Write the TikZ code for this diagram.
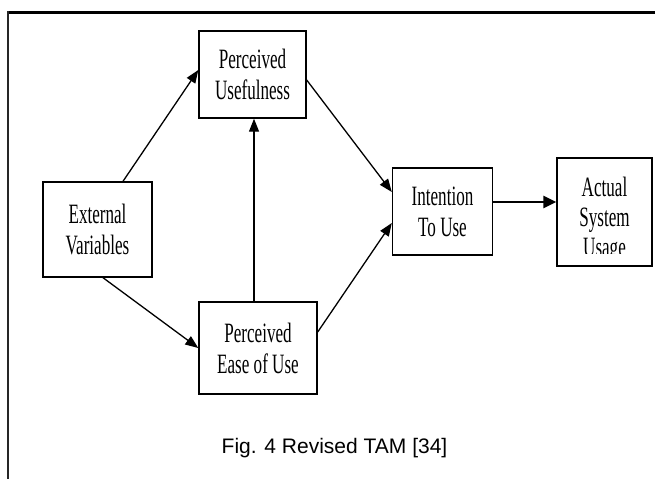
\documentclass[tikz,border=0pt]{standalone}
\usepackage{fontspec}
\setmainfont{Liberation Serif}
\newfontfamily\boxfont[FakeStretch=0.61]{Liberation Serif}
\newfontfamily\capfont{Liberation Sans}
\usetikzlibrary{arrows.meta}

\tikzset{
  model/.style={draw=black, line width=1.4pt, fill=white, inner sep=0pt,
    align=center, font=\boxfont\fontsize{28}{31}\selectfont},
  link/.style={line width=1.3pt, -{Triangle[length=13pt,width=10pt]}},
  biglink/.style={line width=2.6pt, -{Triangle[length=13pt,width=12pt]}},
  frame/.style={line width=2.4pt, black}
}

\begin{document}
\begin{tikzpicture}[x=1pt, y=-1pt]
  \useasboundingbox (0,0) rectangle (655,479);

  % outer frame (top and left rules only)
  \draw[frame] (655,12.5) -- (8,12.5);
  \draw[line width=2pt, black!85] (8,11.3) -- (8,479);

  % constructs
  \node[model, minimum width=109pt, minimum height=95pt] (ev)  at (97.5,229.5) {External\\Variables};
  \node[model, minimum width=107pt, minimum height=87pt] (pu)  at (252.5,74.5) {Perceived\\Usefulness};
  \node[model, minimum width=118pt, minimum height=92pt] (pe)  at (258,348)    {Perceived\\Ease of Use};
  \node[model, minimum width=100pt, minimum height=87pt] (itu) at (442.5,211.5) {Intention\\To Use};
  \node[model, minimum width=95pt,  minimum height=108pt] (asu) at (604.5,212)  {};

  % label of the last box, cut off at its lower part
  % (base anchor of a multi-line node sits on its last line)
  \begin{scope}
    \clip (asu.north west) rectangle ([yshift=13pt]asu.south east);
    \node[font=\boxfont\fontsize{28}{30}\selectfont, align=center, anchor=base]
      (asutext) at (604.5,256) {Actual\\System\\Usage};
  \end{scope}

  % relations
  \draw[link] ([xshift=25.5pt]ev.north) -- ([yshift=4.5pt]pu.west);
  \draw[link] ([xshift=5.5pt]ev.south) -- (pe.west);
  \draw[link] ([xshift=-4pt]pe.north) -- ([xshift=1.5pt]pu.south);
  \draw[link] ([yshift=-5.5pt]pu.east) -- ([yshift=19.5pt]itu.west);
  \draw[link] ([yshift=16pt]pe.east) -- ([yshift=-11.5pt]itu.west);
  \draw[biglink] ([yshift=9.5pt]itu.east) -- ([yshift=9.5pt]itu.east -| asu.west);

  % caption
  \node[font=\capfont\fontsize{21}{25}\selectfont, anchor=base, inner sep=0pt]
    (cap) at (334.5,453) {Fig. 4 Revised TAM [34]};
\end{tikzpicture}
\end{document}
